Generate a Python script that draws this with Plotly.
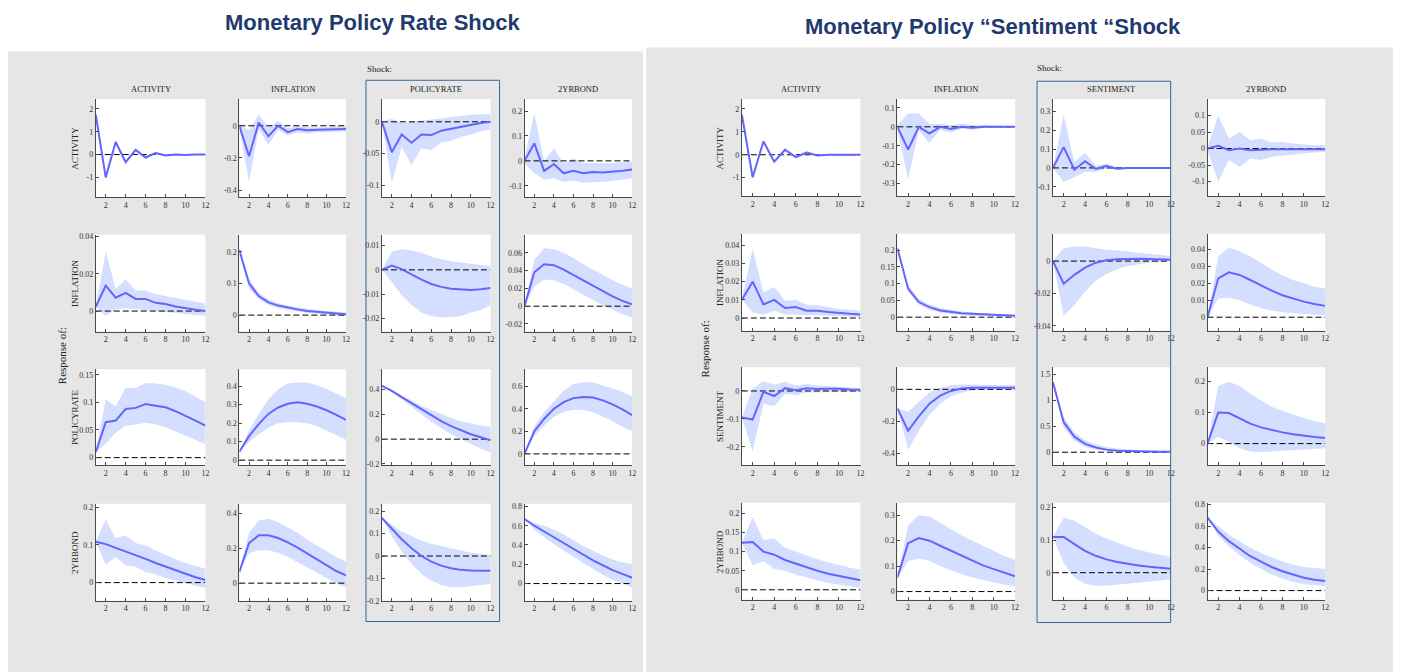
import plotly.graph_objects as go

# ---------------- data ----------------
HORIZON = list(range(1, 13))
X_TICKS = [2, 4, 6, 8, 10, 12]

TITLE_LEFT = "Monetary Policy Rate Shock"
TITLE_RIGHT = "Monetary Policy \u201cSentiment \u201cShock"
VARS_RATE = ["ACTIVITY", "INFLATION", "POLICYRATE", "2YRBOND"]
VARS_SENT = ["ACTIVITY", "INFLATION", "SENTIMENT", "2YRBOND"]

# ---- Monetary policy rate shock panel (response row, shock column) ----
rate_act_act_med = [1.75, -1.0, 0.55, -0.33, 0.2, -0.13, 0.07, -0.04, 0.0, -0.02, 0.0, 0.0]
rate_act_act_lo = [1.7, -1.07, 0.47, -0.42, 0.13, -0.2, 0.02, -0.08, -0.03, -0.05, -0.03, -0.03]
rate_act_act_hi = [1.8, -0.93, 0.63, -0.25, 0.27, -0.07, 0.12, 0.0, 0.03, 0.01, 0.03, 0.03]

rate_act_inf_med = [0.0, -0.19, 0.02, -0.065, 0.0, -0.04, -0.02, -0.028, -0.025, -0.024, -0.02, -0.02]
rate_act_inf_lo = [-0.01, -0.35, -0.02, -0.12, -0.025, -0.06, -0.04, -0.05, -0.04, -0.04, -0.035, -0.035]
rate_act_inf_hi = [0.01, -0.03, 0.07, -0.01, 0.03, -0.015, 0.0, -0.01, -0.01, -0.01, -0.005, -0.005]

rate_act_pol_med = [0.0, -0.048, -0.02, -0.033, -0.02, -0.021, -0.014, -0.011, -0.007, -0.004, -0.002, 0.0]
rate_act_pol_lo = [0.0, -0.097, -0.04, -0.068, -0.042, -0.045, -0.033, -0.03, -0.024, -0.02, -0.015, -0.012]
rate_act_pol_hi = [0.0, 0.005, -0.002, 0.0, 0.002, 0.003, 0.005, 0.007, 0.009, 0.011, 0.012, 0.012]

rate_act_bond_med = [0.0, 0.07, -0.04, -0.013, -0.05, -0.04, -0.05, -0.045, -0.047, -0.042, -0.04, -0.035]
rate_act_bond_lo = [-0.01, -0.05, -0.075, -0.07, -0.085, -0.08, -0.088, -0.085, -0.085, -0.08, -0.075, -0.07]
rate_act_bond_hi = [0.01, 0.19, 0.0, 0.05, -0.01, 0.01, -0.01, -0.01, -0.012, -0.01, -0.005, -0.003]

rate_inf_act_med = [0.0023, 0.0137, 0.0072, 0.0098, 0.0065, 0.0065, 0.0044, 0.0038, 0.0025, 0.0015, 0.0007, 0.0]
rate_inf_act_lo = [0.0023, -0.0025, 0.001, 0.0015, 0.001, 0.0005, 0.0, -0.0005, -0.001, -0.0015, -0.002, -0.0025]
rate_inf_act_hi = [0.0023, 0.032, 0.012, 0.017, 0.011, 0.011, 0.009, 0.008, 0.007, 0.006, 0.005, 0.004]

rate_inf_inf_med = [0.205, 0.1, 0.06, 0.04, 0.03, 0.023, 0.018, 0.013, 0.01, 0.007, 0.005, 0.003]
rate_inf_inf_lo = [0.2, 0.085, 0.05, 0.032, 0.022, 0.016, 0.011, 0.007, 0.004, 0.002, 0.0, -0.002]
rate_inf_inf_hi = [0.21, 0.115, 0.07, 0.05, 0.038, 0.03, 0.025, 0.02, 0.016, 0.013, 0.01, 0.008]

rate_inf_pol_med = [0.0, 0.0018, 0.0003, -0.002, -0.004, -0.0058, -0.007, -0.0078, -0.0082, -0.0083, -0.008, -0.0075]
rate_inf_pol_lo = [0.0, -0.005, -0.0105, -0.0145, -0.0175, -0.019, -0.0195, -0.0195, -0.019, -0.0175, -0.0165, -0.0145]
rate_inf_pol_hi = [0.0, 0.0075, 0.0085, 0.008, 0.007, 0.0055, 0.0045, 0.0035, 0.003, 0.0025, 0.002, 0.0015]

rate_inf_bond_med = [0.0, 0.038, 0.047, 0.046, 0.041, 0.035, 0.029, 0.023, 0.017, 0.011, 0.006, 0.002]
rate_inf_bond_lo = [0.0, 0.022, 0.03, 0.029, 0.025, 0.019, 0.013, 0.007, 0.001, -0.004, -0.009, -0.013]
rate_inf_bond_hi = [0.0, 0.052, 0.065, 0.064, 0.06, 0.054, 0.047, 0.041, 0.035, 0.029, 0.024, 0.02]

rate_pol_act_med = [0.01, 0.064, 0.067, 0.088, 0.09, 0.097, 0.094, 0.091, 0.084, 0.076, 0.067, 0.058]
rate_pol_act_lo = [0.01, 0.025, 0.045, 0.058, 0.06, 0.063, 0.06, 0.055, 0.048, 0.04, 0.032, 0.024]
rate_pol_act_hi = [0.01, 0.105, 0.093, 0.126, 0.126, 0.135, 0.134, 0.132, 0.127, 0.12, 0.11, 0.1]

rate_pol_inf_med = [0.045, 0.13, 0.195, 0.25, 0.285, 0.305, 0.313, 0.305, 0.29, 0.27, 0.245, 0.218]
rate_pol_inf_lo = [0.045, 0.1, 0.14, 0.175, 0.2, 0.205, 0.205, 0.2, 0.185, 0.16, 0.135, 0.11]
rate_pol_inf_hi = [0.045, 0.16, 0.25, 0.33, 0.385, 0.415, 0.42, 0.42, 0.405, 0.385, 0.36, 0.335]

rate_pol_pol_med = [0.43, 0.39, 0.34, 0.29, 0.24, 0.19, 0.145, 0.105, 0.07, 0.04, 0.015, -0.01]
rate_pol_pol_lo = [0.43, 0.38, 0.32, 0.26, 0.2, 0.14, 0.09, 0.04, 0.0, -0.04, -0.075, -0.105]
rate_pol_pol_hi = [0.43, 0.4, 0.355, 0.31, 0.27, 0.235, 0.2, 0.17, 0.145, 0.125, 0.11, 0.1]

rate_pol_bond_med = [0.0, 0.2, 0.31, 0.4, 0.46, 0.495, 0.505, 0.5, 0.475, 0.44, 0.395, 0.345]
rate_pol_bond_lo = [0.0, 0.16, 0.25, 0.33, 0.375, 0.39, 0.39, 0.37, 0.33, 0.29, 0.24, 0.2]
rate_pol_bond_hi = [0.0, 0.24, 0.37, 0.47, 0.56, 0.62, 0.635, 0.635, 0.61, 0.58, 0.55, 0.51]

rate_bond_act_med = [0.108, 0.102, 0.092, 0.083, 0.073, 0.063, 0.052, 0.042, 0.032, 0.022, 0.014, 0.007]
rate_bond_act_lo = [0.108, 0.047, 0.068, 0.045, 0.042, 0.028, 0.022, 0.013, 0.005, -0.002, -0.008, -0.014]
rate_bond_act_hi = [0.108, 0.167, 0.118, 0.125, 0.105, 0.098, 0.085, 0.073, 0.062, 0.052, 0.045, 0.037]

rate_bond_inf_med = [0.065, 0.23, 0.275, 0.275, 0.26, 0.235, 0.205, 0.17, 0.135, 0.1, 0.07, 0.045]
rate_bond_inf_lo = [0.065, 0.17, 0.19, 0.19, 0.175, 0.15, 0.12, 0.09, 0.06, 0.03, 0.0, -0.025]
rate_bond_inf_hi = [0.065, 0.29, 0.36, 0.37, 0.35, 0.32, 0.29, 0.25, 0.215, 0.18, 0.15, 0.125]

rate_bond_pol_med = [0.17, 0.12, 0.075, 0.035, 0.0, -0.025, -0.043, -0.055, -0.062, -0.065, -0.066, -0.066]
rate_bond_pol_lo = [0.17, 0.09, 0.02, -0.035, -0.08, -0.11, -0.13, -0.14, -0.14, -0.135, -0.13, -0.125]
rate_bond_pol_hi = [0.17, 0.14, 0.11, 0.09, 0.07, 0.055, 0.045, 0.035, 0.025, 0.015, 0.01, 0.005]

rate_bond_bond_med = [0.67, 0.6, 0.54, 0.48, 0.42, 0.36, 0.3, 0.24, 0.19, 0.14, 0.1, 0.06]
rate_bond_bond_lo = [0.67, 0.56, 0.48, 0.41, 0.34, 0.28, 0.21, 0.15, 0.09, 0.04, 0.0, -0.04]
rate_bond_bond_hi = [0.67, 0.63, 0.6, 0.56, 0.51, 0.45, 0.39, 0.34, 0.29, 0.25, 0.22, 0.2]

# ---- Monetary policy sentiment shock panel ----
sent_act_act_med = [1.75, -0.98, 0.58, -0.3, 0.22, -0.1, 0.1, -0.03, 0.0, 0.0, 0.0, 0.0]
sent_act_act_lo = [1.7, -1.05, 0.5, -0.38, 0.15, -0.16, 0.05, -0.07, -0.03, -0.03, -0.03, -0.03]
sent_act_act_hi = [1.8, -0.9, 0.66, -0.22, 0.29, -0.04, 0.15, 0.01, 0.03, 0.03, 0.03, 0.03]

sent_act_inf_med = [0.0, -0.12, 0.0, -0.035, 0.0, -0.012, 0.0, -0.005, 0.0, 0.0, 0.0, 0.0]
sent_act_inf_lo = [-0.01, -0.28, -0.02, -0.085, -0.015, -0.03, -0.01, -0.015, -0.008, -0.006, -0.005, -0.005]
sent_act_inf_hi = [0.01, 0.07, 0.07, 0.015, 0.015, 0.01, 0.015, 0.01, 0.01, 0.006, 0.005, 0.005]

sent_act_sen_med = [0.0, 0.11, -0.01, 0.035, -0.005, 0.01, -0.005, 0.0, 0.0, 0.0, 0.0, 0.0]
sent_act_sen_lo = [0.0, -0.075, -0.05, -0.02, -0.02, -0.005, -0.01, -0.005, -0.005, -0.003, -0.003, -0.003]
sent_act_sen_hi = [0.0, 0.28, 0.03, 0.08, 0.01, 0.025, 0.005, 0.005, 0.004, 0.003, 0.003, 0.003]

sent_act_bond_med = [0.0, 0.008, -0.005, 0.0, -0.005, -0.003, -0.002, -0.002, -0.002, -0.002, -0.002, -0.002]
sent_act_bond_lo = [-0.005, -0.1, -0.035, -0.055, -0.03, -0.035, -0.025, -0.022, -0.02, -0.015, -0.012, -0.01]
sent_act_bond_hi = [0.005, 0.1, 0.03, 0.05, 0.025, 0.03, 0.018, 0.02, 0.015, 0.012, 0.01, 0.01]

sent_inf_act_med = [0.01, 0.02, 0.0075, 0.01, 0.0055, 0.006, 0.004, 0.004, 0.0033, 0.0027, 0.0023, 0.002]
sent_inf_act_lo = [0.01, 0.003, 0.002, 0.004, 0.002, 0.002, 0.0015, 0.0015, 0.001, 0.001, 0.0008, 0.0005]
sent_inf_act_hi = [0.01, 0.038, 0.014, 0.017, 0.0095, 0.01, 0.0075, 0.007, 0.006, 0.005, 0.0045, 0.004]

sent_inf_inf_med = [0.205, 0.085, 0.045, 0.03, 0.02, 0.015, 0.012, 0.01, 0.008, 0.006, 0.005, 0.004]
sent_inf_inf_lo = [0.2, 0.075, 0.037, 0.022, 0.014, 0.009, 0.006, 0.004, 0.003, 0.002, 0.0015, 0.001]
sent_inf_inf_hi = [0.21, 0.095, 0.055, 0.038, 0.027, 0.021, 0.017, 0.014, 0.011, 0.009, 0.008, 0.007]

sent_inf_sen_med = [0.0, -0.014, -0.0085, -0.004, -0.001, 0.0005, 0.0012, 0.0015, 0.0015, 0.0013, 0.001, 0.0008]
sent_inf_sen_lo = [0.0, -0.034, -0.027, -0.019, -0.012, -0.008, -0.005, -0.003, -0.002, -0.001, -0.0005, 0.0]
sent_inf_sen_hi = [0.0, 0.008, 0.009, 0.009, 0.008, 0.007, 0.0065, 0.006, 0.005, 0.0045, 0.004, 0.003]

sent_inf_bond_med = [0.0, 0.023, 0.0265, 0.025, 0.022, 0.0188, 0.0157, 0.013, 0.011, 0.0092, 0.0078, 0.0067]
sent_inf_bond_lo = [0.0, 0.011, 0.0115, 0.01, 0.0075, 0.0055, 0.004, 0.003, 0.0025, 0.002, 0.0015, 0.001]
sent_inf_bond_hi = [0.0, 0.036, 0.041, 0.039, 0.036, 0.032, 0.028, 0.025, 0.022, 0.02, 0.018, 0.017]

sent_sen_act_med = [-0.095, -0.102, -0.003, -0.018, 0.01, 0.003, 0.01, 0.007, 0.008, 0.008, 0.005, 0.004]
sent_sen_act_lo = [-0.095, -0.215, -0.045, -0.055, -0.01, -0.015, -0.005, -0.005, -0.003, -0.003, -0.003, -0.003]
sent_sen_act_hi = [-0.095, 0.01, 0.035, 0.022, 0.033, 0.02, 0.025, 0.02, 0.018, 0.015, 0.012, 0.01]

sent_sen_inf_med = [-0.12, -0.26, -0.17, -0.09, -0.04, -0.01, 0.005, 0.01, 0.01, 0.01, 0.01, 0.01]
sent_sen_inf_lo = [-0.12, -0.38, -0.26, -0.16, -0.09, -0.045, -0.02, -0.008, -0.003, 0.0, 0.0, 0.0]
sent_sen_inf_hi = [-0.12, -0.14, -0.08, -0.02, 0.01, 0.025, 0.03, 0.03, 0.028, 0.027, 0.025, 0.025]

sent_sen_sen_med = [1.35, 0.58, 0.3, 0.16, 0.09, 0.05, 0.03, 0.02, 0.015, 0.012, 0.01, 0.01]
sent_sen_sen_lo = [1.35, 0.48, 0.22, 0.1, 0.05, 0.025, 0.015, 0.008, 0.005, 0.003, 0.002, 0.0]
sent_sen_sen_hi = [1.35, 0.68, 0.38, 0.23, 0.15, 0.1, 0.07, 0.05, 0.04, 0.03, 0.025, 0.022]

sent_sen_bond_med = [0.0, 0.1, 0.098, 0.08, 0.064, 0.052, 0.043, 0.036, 0.03, 0.025, 0.021, 0.018]
sent_sen_bond_lo = [0.0, 0.022, 0.005, -0.015, -0.025, -0.027, -0.027, -0.025, -0.022, -0.02, -0.017, -0.015]
sent_sen_bond_hi = [0.0, 0.185, 0.198, 0.185, 0.16, 0.138, 0.118, 0.105, 0.093, 0.082, 0.072, 0.065]

sent_bond_act_med = [0.123, 0.125, 0.1, 0.092, 0.078, 0.068, 0.058, 0.05, 0.042, 0.036, 0.03, 0.025]
sent_bond_act_lo = [0.123, 0.065, 0.075, 0.055, 0.05, 0.04, 0.032, 0.025, 0.018, 0.013, 0.009, 0.005]
sent_bond_act_hi = [0.123, 0.19, 0.13, 0.135, 0.11, 0.1, 0.088, 0.08, 0.072, 0.065, 0.058, 0.053]

sent_bond_inf_med = [0.055, 0.19, 0.21, 0.2, 0.18, 0.16, 0.14, 0.12, 0.103, 0.088, 0.073, 0.06]
sent_bond_inf_lo = [0.055, 0.12, 0.13, 0.12, 0.1, 0.085, 0.068, 0.055, 0.045, 0.035, 0.027, 0.02]
sent_bond_inf_hi = [0.055, 0.26, 0.3, 0.295, 0.27, 0.245, 0.22, 0.2, 0.18, 0.16, 0.14, 0.125]

sent_bond_sen_med = [0.11, 0.11, 0.088, 0.067, 0.052, 0.041, 0.033, 0.027, 0.022, 0.018, 0.015, 0.012]
sent_bond_sen_lo = [0.11, 0.03, -0.015, -0.035, -0.04, -0.04, -0.037, -0.033, -0.03, -0.027, -0.024, -0.021]
sent_bond_sen_hi = [0.11, 0.17, 0.16, 0.14, 0.12, 0.105, 0.092, 0.08, 0.07, 0.062, 0.055, 0.048]

sent_bond_bond_med = [0.68, 0.55, 0.46, 0.39, 0.32, 0.27, 0.22, 0.18, 0.15, 0.12, 0.1, 0.09]
sent_bond_bond_lo = [0.68, 0.51, 0.41, 0.33, 0.26, 0.2, 0.15, 0.11, 0.08, 0.06, 0.05, 0.04]
sent_bond_bond_hi = [0.68, 0.6, 0.52, 0.46, 0.4, 0.35, 0.31, 0.27, 0.24, 0.22, 0.21, 0.2]

# y tick labels per cell
RATE_YTICKS = [
    [[-1, 0, 1, 2], [-0.4, -0.2, 0], [-0.1, -0.05, 0], [-0.1, 0, 0.1, 0.2]],
    [[0, 0.02, 0.04], [0, 0.1, 0.2], [-0.02, -0.01, 0, 0.01], [-0.02, 0, 0.02, 0.04, 0.06]],
    [[0, 0.05, 0.1, 0.15], [0, 0.1, 0.2, 0.3, 0.4], [-0.2, 0, 0.2, 0.4], [0, 0.2, 0.4, 0.6]],
    [[0, 0.1, 0.2], [0, 0.2, 0.4], [-0.2, -0.1, 0, 0.1, 0.2], [0, 0.2, 0.4, 0.6, 0.8]],
]
SENT_YTICKS = [
    [[-1, 0, 1, 2], [-0.3, -0.2, -0.1, 0, 0.1], [-0.1, 0, 0.1, 0.2, 0.3], [-0.1, -0.05, 0, 0.05, 0.1]],
    [[0, 0.01, 0.02, 0.03, 0.04], [0, 0.05, 0.1, 0.15, 0.2], [-0.04, -0.02, 0], [0, 0.01, 0.02, 0.03, 0.04]],
    [[-0.2, -0.1, 0], [-0.4, -0.2, 0], [0, 0.5, 1, 1.5], [0, 0.1, 0.2]],
    [[0, 0.05, 0.1, 0.15, 0.2], [0, 0.1, 0.2, 0.3], [0, 0.1, 0.2], [0, 0.2, 0.4, 0.6, 0.8]],
]

# ---------------- layout settings ----------------
RATE_YRANGE = [
    [[-1.86, 2.43], [-0.443, 0.166], [-0.119, 0.036], [-0.145, 0.248]],
    [[-0.011, 0.041], [-0.052, 0.254], [-0.0254, 0.0145], [-0.0285, 0.0803]],
    [[-0.0136, 0.160], [-0.027, 0.492], [-0.21, 0.565], [-0.1, 0.752]],
    [[-0.048, 0.209], [-0.101, 0.457], [-0.2, 0.234], [-0.178, 0.828]],
]
SENT_YRANGE = [
    [[-1.8, 2.43], [-0.366, 0.147], [-0.149, 0.365], [-0.144, 0.15]],
    [[-0.0069, 0.0464], [-0.04, 0.249], [-0.043, 0.017], [-0.0079, 0.0494]],
    [[-0.265, 0.085], [-0.476, 0.139], [-0.25, 1.643], [-0.069, 0.245]],
    [[-0.026, 0.228], [-0.032, 0.349], [-0.083, 0.215], [-0.085, 0.818]],
]

RATE_CELLS = [
    [(rate_act_act_med, rate_act_act_lo, rate_act_act_hi), (rate_act_inf_med, rate_act_inf_lo, rate_act_inf_hi),
     (rate_act_pol_med, rate_act_pol_lo, rate_act_pol_hi), (rate_act_bond_med, rate_act_bond_lo, rate_act_bond_hi)],
    [(rate_inf_act_med, rate_inf_act_lo, rate_inf_act_hi), (rate_inf_inf_med, rate_inf_inf_lo, rate_inf_inf_hi),
     (rate_inf_pol_med, rate_inf_pol_lo, rate_inf_pol_hi), (rate_inf_bond_med, rate_inf_bond_lo, rate_inf_bond_hi)],
    [(rate_pol_act_med, rate_pol_act_lo, rate_pol_act_hi), (rate_pol_inf_med, rate_pol_inf_lo, rate_pol_inf_hi),
     (rate_pol_pol_med, rate_pol_pol_lo, rate_pol_pol_hi), (rate_pol_bond_med, rate_pol_bond_lo, rate_pol_bond_hi)],
    [(rate_bond_act_med, rate_bond_act_lo, rate_bond_act_hi), (rate_bond_inf_med, rate_bond_inf_lo, rate_bond_inf_hi),
     (rate_bond_pol_med, rate_bond_pol_lo, rate_bond_pol_hi), (rate_bond_bond_med, rate_bond_bond_lo, rate_bond_bond_hi)],
]
SENT_CELLS = [
    [(sent_act_act_med, sent_act_act_lo, sent_act_act_hi), (sent_act_inf_med, sent_act_inf_lo, sent_act_inf_hi),
     (sent_act_sen_med, sent_act_sen_lo, sent_act_sen_hi), (sent_act_bond_med, sent_act_bond_lo, sent_act_bond_hi)],
    [(sent_inf_act_med, sent_inf_act_lo, sent_inf_act_hi), (sent_inf_inf_med, sent_inf_inf_lo, sent_inf_inf_hi),
     (sent_inf_sen_med, sent_inf_sen_lo, sent_inf_sen_hi), (sent_inf_bond_med, sent_inf_bond_lo, sent_inf_bond_hi)],
    [(sent_sen_act_med, sent_sen_act_lo, sent_sen_act_hi), (sent_sen_inf_med, sent_sen_inf_lo, sent_sen_inf_hi),
     (sent_sen_sen_med, sent_sen_sen_lo, sent_sen_sen_hi), (sent_sen_bond_med, sent_sen_bond_lo, sent_sen_bond_hi)],
    [(sent_bond_act_med, sent_bond_act_lo, sent_bond_act_hi), (sent_bond_inf_med, sent_bond_inf_lo, sent_bond_inf_hi),
     (sent_bond_sen_med, sent_bond_sen_lo, sent_bond_sen_hi), (sent_bond_bond_med, sent_bond_bond_lo, sent_bond_bond_hi)],
]

# page is 1401x672; the html body adds an 8px margin on every side, so the
# figure is offset by 8px and kept narrow enough not to overflow the page width
PAGE_W, PAGE_H, OFF = 1401, 672, 8
W, HT = PAGE_W - 2 * OFF, PAGE_H - OFF
COLS_PX = [[(96, 206), (240, 347), (383, 492), (526, 634)],
           [(744, 863), (900, 1018), (1056, 1174), (1211, 1329)]]
ROWS_PX = [[(98, 197), (235, 333), (371, 468), (507, 605)],
           [(98, 196), (234, 332), (369, 468), (506, 604)]]

LINE_COLOR = "rgb(100,100,255)"
BAND_COLOR = "rgb(212,222,255)"
AXIS_COLOR = "#4a4a4a"
SERIF = "Liberation Serif, serif"
TICK_FONT = dict(family=SERIF, size=8, color="#333333")


def fx(p):
    return (p - OFF) / W


def fy(p):
    return 1 - (p - OFF) / HT


def fmt(v):
    return f"{v:g}"


fig = go.Figure()
layout = {}
panels = [(RATE_CELLS, RATE_YRANGE, RATE_YTICKS), (SENT_CELLS, SENT_YRANGE, SENT_YTICKS)]
n = 0
for p, (cells, yr, yt) in enumerate(panels):
    for r in range(4):
        for c in range(4):
            n += 1
            med, lo, hi = cells[r][c]
            xa = "x" if n == 1 else f"x{n}"
            ya = "y" if n == 1 else f"y{n}"
            fig.add_trace(go.Scatter(
                x=HORIZON + HORIZON[::-1], y=hi + lo[::-1], fill="toself",
                fillcolor=BAND_COLOR, line=dict(width=0), mode="lines",
                hoverinfo="skip", showlegend=False, xaxis=xa, yaxis=ya))
            fig.add_trace(go.Scatter(
                x=[HORIZON[0], HORIZON[-1]], y=[0, 0], mode="lines",
                line=dict(color="black", width=1, dash="6px,3px"),
                hoverinfo="skip", showlegend=False, xaxis=xa, yaxis=ya))
            fig.add_trace(go.Scatter(
                x=HORIZON, y=med, mode="lines",
                line=dict(color=LINE_COLOR, width=2),
                showlegend=False, xaxis=xa, yaxis=ya))
            x0, x1 = COLS_PX[p][c]
            t0, t1 = ROWS_PX[p][r]
            xkey = "xaxis" if n == 1 else f"xaxis{n}"
            ykey = "yaxis" if n == 1 else f"yaxis{n}"
            layout[xkey] = dict(
                domain=[fx(x0), fx(x1)], anchor=ya, range=[HORIZON[0], HORIZON[-1]],
                tickmode="array", tickvals=X_TICKS, ticktext=[str(v) for v in X_TICKS],
                showline=True, linecolor=AXIS_COLOR, linewidth=1, showgrid=False,
                zeroline=False, ticks="inside", ticklen=3, tickcolor=AXIS_COLOR,
                tickfont=TICK_FONT, fixedrange=True)
            layout[ykey] = dict(
                domain=[fy(t1), fy(t0)], anchor=xa, range=yr[r][c],
                tickmode="array", tickvals=yt[r][c], ticktext=[fmt(v) for v in yt[r][c]],
                showline=True, linecolor=AXIS_COLOR, linewidth=1, showgrid=False,
                zeroline=False, ticks="inside", ticklen=3, tickcolor=AXIS_COLOR,
                tickfont=TICK_FONT, fixedrange=True)


def note(text, xp, yp, size, family=SERIF, color="#222", angle=0, xanchor="center"):
    return dict(text=text, x=fx(xp), y=fy(yp), xref="paper", yref="paper", showarrow=False,
                xanchor=xanchor, yanchor="middle", textangle=angle,
                font=dict(family=family, size=size, color=color))


annotations = [
    note(f"<b>{TITLE_LEFT}</b>", 374, 21, 22, "Liberation Sans, Arial, sans-serif", "#1f3a6e"),
    note(f"<b>{TITLE_RIGHT}</b>", 996, 25, 22, "Liberation Sans, Arial, sans-serif", "#1f3a6e"),
    note("Response of:", 62, 357, 11, angle=-90),
    note("Response of:", 707, 350, 11, angle=-90),
    note("Shock:", 366, 68, 9, xanchor="left"),
    note("Shock:", 1038, 67, 9, xanchor="left"),
]
for p, names in enumerate([VARS_RATE, VARS_SENT]):
    for c, name in enumerate(names):
        x0, x1 = COLS_PX[p][c]
        annotations.append(note(name, (x0 + x1) / 2, 88, 8.5))
    for r, name in enumerate(names):
        t0, t1 = ROWS_PX[p][r]
        xl = 75 if p == 0 else 722
        annotations.append(note(name, xl, (t0 + t1) / 2, 9, angle=-90))

shapes = [
    # white areas around the grey panels
    dict(type="rect", xref="paper", yref="paper", x0=-0.01, x1=1.01, y0=fy(46), y1=1.02,
         fillcolor="white", line=dict(width=0), layer="below"),
    dict(type="rect", xref="paper", yref="paper", x0=-0.01, x1=fx(646), y0=fy(50), y1=1.02,
         fillcolor="white", line=dict(width=0), layer="below"),
    dict(type="rect", xref="paper", yref="paper", x0=fx(645), x1=fx(648), y0=-0.01, y1=1.02,
         fillcolor="white", line=dict(width=0), layer="below"),
    # shock boxes
    dict(type="rect", xref="paper", yref="paper", x0=fx(367), x1=fx(501), y0=fy(626), y1=fy(79),
         line=dict(color="#3d6190", width=1), fillcolor="rgba(0,0,0,0)"),
    dict(type="rect", xref="paper", yref="paper", x0=fx(1040), x1=fx(1174), y0=fy(627), y1=fy(80),
         line=dict(color="#3d6190", width=1), fillcolor="rgba(0,0,0,0)"),
]

fig.update_layout(
    width=W, height=HT, margin=dict(l=0, r=0, t=0, b=0),
    paper_bgcolor="#e6e6e6", plot_bgcolor="white",
    showlegend=False, annotations=annotations, shapes=shapes, **layout)

fig.write_html("out.html")
